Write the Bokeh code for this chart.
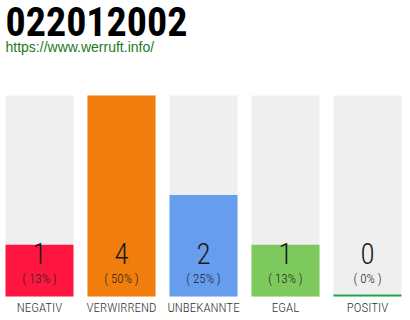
from bokeh.plotting import figure
from bokeh.models import Range1d, Label, ColumnDataSource
from bokeh.embed import file_html
from bokeh.resources import INLINE
from bokeh.core.properties import value

# ---- data ----
title_text = "022012002"
url_text = "https://www.werruft.info/"
categories = ["NEGATIV", "VERWIRREND", "UNBEKANNTE", "EGAL", "POSITIV"]
counts = [1, 4, 2, 1, 0]
percent_labels = ["( 13% )", "( 50% )", "( 25% )", "( 13% )", "( 0% )"]
bar_colors = ["#FF1640", "#F07D0C", "#669DEE", "#7DC95D", "#22A548"]

# ---- layout (pixels) ----
W, H = 410, 320
LIGHT = "Roboto Condensed Light"
ppu = 199 / max(counts)          # pixels per count unit
base = -2 / ppu                  # bars start 2px below zero
y_start = -26 / ppu
y_end = max(counts) + 95 / ppu
x_start = -39 / 82
x_end = x_start + W / 82

xs = list(range(len(categories)))
src = ColumnDataSource(dict(
    x=xs, cat=categories, count=counts, count_txt=[str(c) for c in counts],
    pct=percent_labels, color=bar_colors, full=[max(counts)] * len(xs),
))

p = figure(width=W, height=H, output_backend="svg", toolbar_location=None,
           x_range=Range1d(x_start, x_end), y_range=Range1d(y_start, y_end),
           x_axis_type=None, y_axis_type=None, min_border=0,
           min_border_left=0, min_border_right=0, min_border_top=0, min_border_bottom=0)
p.outline_line_color = None
p.xgrid.visible = False
p.ygrid.visible = False
p.background_fill_color = "white"
p.border_fill_color = "white"

bw = 68 / 82
p.vbar(x="x", top="full", bottom=base, width=bw, source=src,
       fill_color="#EFEFEF", line_color=None)
p.vbar(x="x", top="count", bottom=base, width=bw, source=src,
       fill_color="color", line_color=None)

p.text(x="x", y=base, text="count_txt", source=src, y_offset=-43,
       text_align="center", text_baseline="middle",
       text_font=value(LIGHT), text_font_size="29px", text_color="#1a1a1a")
p.text(x="x", y=base, text="pct", source=src, y_offset=-18,
       text_align="center", text_baseline="middle",
       text_font=value(LIGHT), text_font_size="13px", text_color="#222222")
p.text(x="x", y=base, text="cat", source=src, y_offset=11,
       text_align="center", text_baseline="middle",
       text_font=value(LIGHT), text_font_size="13px", text_color="#333333")

p.add_layout(Label(x=5, y=H - 21, x_units="screen", y_units="screen",
                   text=title_text, text_font="Roboto Condensed", text_font_style="bold",
                   text_font_size="40px", text_color="#000000",
                   text_baseline="middle"))
p.add_layout(Label(x=5, y=H - 46, x_units="screen", y_units="screen",
                   text=url_text, text_font="Liberation Sans",
                   text_font_size="14px", text_color="#1E7A1E",
                   text_baseline="middle"))

open("out.html", "w").write(file_html(p, INLINE))
